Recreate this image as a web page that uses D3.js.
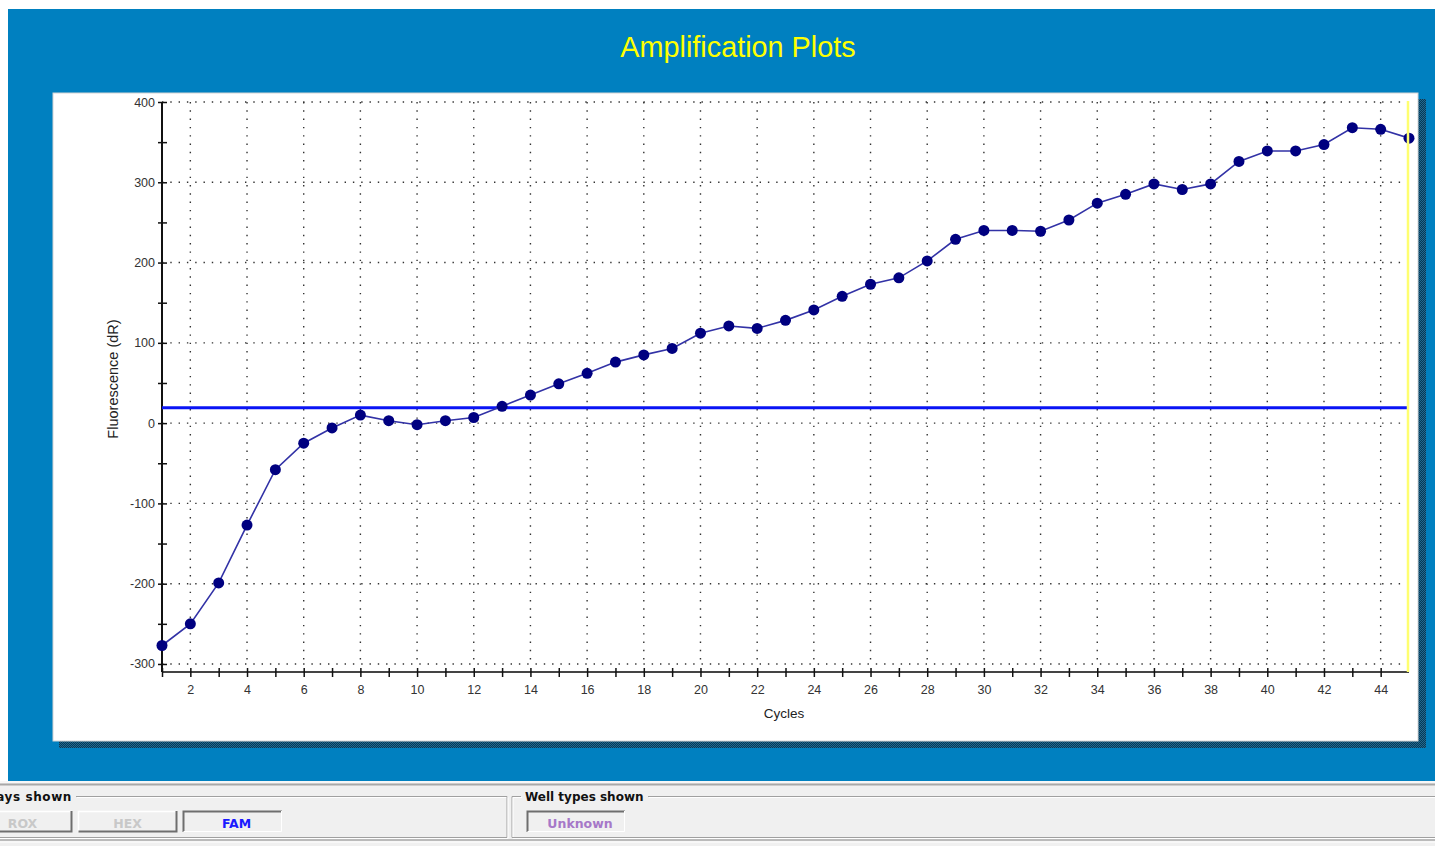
<!DOCTYPE html>
<html>
<head>
<meta charset="utf-8">
<script src="https://cdn.jsdelivr.net/npm/d3@7"></script>
<style>
  html, body { margin: 0; padding: 0; background: #ffffff; overflow: hidden; }
  svg { display: block; }
</style>
</head>
<body>
<svg id="chart" width="1435" height="846"></svg>
<script>
// Amplification data: FAM fluorescence (dR) per PCR cycle
const cycles = [1, 2, 3, 4, 5, 6, 7, 8, 9, 10, 11, 12, 13, 14, 15, 16, 17, 18, 19, 20,
                21, 22, 23, 24, 25, 26, 27, 28, 29, 30, 31, 32, 33, 34, 35, 36, 37, 38, 39, 40,
                41, 42, 43, 44, 45];
const fluorescence = [-277, -250, -199, -127, -58, -25, -6, 10, 3, -2, 3, 7, 21, 35, 49, 62, 76, 85, 93, 112,
                      121, 118, 128, 141, 158, 173, 181, 202, 229, 240, 240, 239, 253, 274, 285, 298, 291, 298, 326, 339,
                      339, 347, 368, 366, 355];
const threshold = 19;
const cursorCycle = 45;

const xTickLabels = [2, 4, 6, 8, 10, 12, 14, 16, 18, 20, 22, 24, 26, 28, 30, 32, 34, 36, 38, 40, 42, 44];
const yTickLabels = [-300, -200, -100, 0, 100, 200, 300, 400];
const yMinorTicks = [-250, -150, -50, 50, 150, 250, 350];

const dyeButtons = ["ROX", "HEX", "FAM"];
const wellTypeButtons = ["Unknown"];

const svg = d3.select("#chart");
const W = 1435, H = 846;

// ---- window background ----
svg.append("rect").attr("x", 0).attr("y", 0).attr("width", W).attr("height", H).attr("fill", "#ffffff");
svg.append("rect").attr("x", 8).attr("y", 9).attr("width", W - 8).attr("height", 772).attr("fill", "#0080c0");

// dithered drop shadow pattern
const defs = svg.append("defs");
const pat = defs.append("pattern").attr("id", "dither").attr("width", 2).attr("height", 2)
  .attr("patternUnits", "userSpaceOnUse");
pat.append("rect").attr("width", 2).attr("height", 2).attr("fill", "#0a3854");
pat.append("rect").attr("x", 0).attr("y", 0).attr("width", 1).attr("height", 1).attr("fill", "#1f6a92");
pat.append("rect").attr("x", 1).attr("y", 1).attr("width", 1).attr("height", 1).attr("fill", "#1f6a92");

svg.append("rect").attr("x", 59).attr("y", 99).attr("width", 1367).attr("height", 649).attr("fill", "url(#dither)");
svg.append("rect").attr("x", 53).attr("y", 93).attr("width", 1365).attr("height", 648)
  .attr("fill", "#ffffff").attr("stroke", "#d4d4d4").attr("stroke-width", 1);

// title
svg.append("text").attr("x", 738).attr("y", 57).attr("text-anchor", "middle")
  .attr("font-family", "'Liberation Sans', Arial, sans-serif").attr("font-size", 28.8)
  .attr("fill", "#ffff00").text("Amplification Plots");

// ---- scales ----
const x = d3.scaleLinear().domain([1, 45]).range([162, 1409]);
const y = d3.scaleLinear().domain([-310, 400]).range([672, 102]);

const plot = svg.append("g");

// dotted grid
const dotted = { stroke: "#333333", width: 1.4, dash: "1.4,6.9" };
plot.append("g").selectAll("line").data(yTickLabels).join("line")
  .attr("x1", x(1)).attr("x2", x(45)).attr("y1", d => y(d)).attr("y2", d => y(d))
  .attr("stroke", dotted.stroke).attr("stroke-width", dotted.width)
  .attr("stroke-dasharray", dotted.dash);
plot.append("g").selectAll("line").data(xTickLabels).join("line")
  .attr("x1", d => x(d)).attr("x2", d => x(d)).attr("y1", y(400)).attr("y2", y(-300))
  .attr("stroke", dotted.stroke).attr("stroke-width", dotted.width)
  .attr("stroke-dasharray", dotted.dash);

// axes
const axisFont = "'Liberation Sans', Arial, sans-serif";
const yAxis = d3.axisLeft(y).tickValues(yTickLabels.concat(yMinorTicks))
  .tickSize(4).tickPadding(3)
  .tickFormat(d => yTickLabels.includes(d) ? d : "");
const gy = plot.append("g").attr("transform", `translate(${x(1)},0)`).call(yAxis);
gy.select(".domain").attr("d", `M0,${y(400)}V${y(-310)}`).attr("stroke", "#111").attr("stroke-width", 2);
gy.selectAll(".tick line").attr("x1", 5).attr("x2", -4).attr("stroke", "#111").attr("stroke-width", 1.5);
gy.selectAll(".tick text").attr("font-family", axisFont).attr("font-size", 12.5).attr("fill", "#333");

const xAxis = d3.axisBottom(x).tickValues(cycles.slice(0, 44))
  .tickSize(5).tickPadding(8)
  .tickFormat(d => xTickLabels.includes(d) ? d : "");
const gx = plot.append("g").attr("transform", `translate(0,${y(-310)})`).call(xAxis);
gx.select(".domain").attr("d", `M${x(1)},0H${x(45)}`).attr("stroke", "#444").attr("stroke-width", 2);
gx.selectAll(".tick line").attr("y1", -4).attr("y2", 5).attr("stroke", "#111").attr("stroke-width", 1.5);
gx.selectAll(".tick text").attr("font-family", axisFont).attr("font-size", 12.5).attr("fill", "#333");

// axis titles
svg.append("text").attr("transform", `translate(118,${379}) rotate(-90)`).attr("text-anchor", "middle")
  .attr("font-family", axisFont).attr("font-size", 14.5).attr("fill", "#222").text("Fluorescence (dR)");
svg.append("text").attr("x", 784).attr("y", 718).attr("text-anchor", "middle")
  .attr("font-family", axisFont).attr("font-size", 13.5).attr("fill", "#222").text("Cycles");

// threshold line
plot.append("line").attr("x1", x(1)).attr("x2", x(45)).attr("y1", y(threshold)).attr("y2", y(threshold))
  .attr("stroke", "#0a14f5").attr("stroke-width", 3);

// amplification curve
const pts = cycles.map((c, i) => [c, fluorescence[i]]);
plot.append("path").datum(pts)
  .attr("d", d3.line().x(d => x(d[0])).y(d => y(d[1])))
  .attr("fill", "none").attr("stroke", "#3232a6").attr("stroke-width", 1.6);
plot.append("g").selectAll("circle").data(pts).join("circle")
  .attr("cx", d => x(d[0])).attr("cy", d => y(d[1])).attr("r", 5.5)
  .attr("fill", "#000080");

// cycle cursor
plot.append("line").attr("x1", x(cursorCycle) - 1).attr("x2", x(cursorCycle) - 1)
  .attr("y1", 101).attr("y2", y(-310))
  .attr("stroke", "#ffff70").attr("stroke-width", 2.5);

// ---- bottom control panel ----
const ctl = svg.append("g");
ctl.append("rect").attr("x", 0).attr("y", 781).attr("width", W).attr("height", H - 781).attr("fill", "#f0f0f0");
ctl.append("line").attr("x1", 0).attr("x2", W).attr("y1", 782).attr("y2", 782).attr("stroke", "#ffffff");
ctl.append("line").attr("x1", 0).attr("x2", W).attr("y1", 784.5).attr("y2", 784.5).attr("stroke", "#a8a8a8").attr("stroke-width", 2);
ctl.append("line").attr("x1", 0).attr("x2", W).attr("y1", 840).attr("y2", 840).attr("stroke", "#a8a8a8").attr("stroke-width", 1.5);
ctl.append("line").attr("x1", 0).attr("x2", W).attr("y1", 842).attr("y2", 842).attr("stroke", "#ffffff");

const uiFont = "'DejaVu Sans', Verdana, sans-serif";

// etched group boxes
function groupBox(x0, x1, labelStart, labelEnd, label, textX, anchor, spacing) {
  const g = ctl.append("g");
  const yTop = 796.5, yBot = 837.5;
  const segs = [
    [x0, yTop, labelStart, yTop], [labelEnd, yTop, x1, yTop],
    [x0, yTop, x0, yBot], [x0, yBot, x1, yBot], [x1, yTop, x1, yBot]
  ];
  segs.forEach(s => {
    g.append("line").attr("x1", s[0]).attr("y1", s[1]).attr("x2", s[2]).attr("y2", s[3])
      .attr("stroke", "#a0a0a0");
    g.append("line").attr("x1", s[0] + 1).attr("y1", s[1] + 1).attr("x2", s[2] + 1).attr("y2", s[3] + 1)
      .attr("stroke", "#ffffff");
  });
  g.append("text").attr("x", textX).attr("y", 801).attr("text-anchor", anchor)
    .attr("font-family", uiFont).attr("font-weight", "bold").attr("letter-spacing", spacing)
    .attr("font-size", 12).attr("fill", "#111").text(label);
}
groupBox(-60, 507, -60, 76, "Assays shown", 72, "end", 0.6);
groupBox(512, 1445, 521, 648, "Well types shown", 525, "start", 0);

// push buttons
function button(bx, bw, label, pressed, color) {
  const g = ctl.append("g");
  const by = 811, bh = 21;
  g.append("rect").attr("x", bx).attr("y", by).attr("width", bw).attr("height", bh).attr("fill", "#f0f0f0");
  const light = pressed ? "#6e6e6e" : "#ffffff";
  const dark = pressed ? "#ffffff" : "#6e6e6e";
  g.append("path").attr("d", `M${bx + 0.5},${by + bh}V${by + 0.5}H${bx + bw}`)
    .attr("fill", "none").attr("stroke", light).attr("stroke-width", pressed ? 2 : 1.5);
  g.append("path").attr("d", `M${bx + 0.5},${by + bh - 0.5}H${bx + bw - 0.5}V${by}`)
    .attr("fill", "none").attr("stroke", dark).attr("stroke-width", pressed ? 1 : 2);
  g.append("text").attr("x", bx + bw / 2 + (pressed ? 4 : 0)).attr("y", by + 16.5).attr("text-anchor", "middle")
    .attr("font-family", uiFont).attr("font-weight", "bold").attr("font-size", 12.5)
    .attr("fill", color).text(label);
}
button(-27, 99, dyeButtons[0], false, "#c8c8c8");
button(78, 99, dyeButtons[1], false, "#c8c8c8");
button(183, 99, dyeButtons[2], true, "#1a1aff");
button(527, 98, wellTypeButtons[0], true, "#a678c8");
</script>
</body>
</html>
